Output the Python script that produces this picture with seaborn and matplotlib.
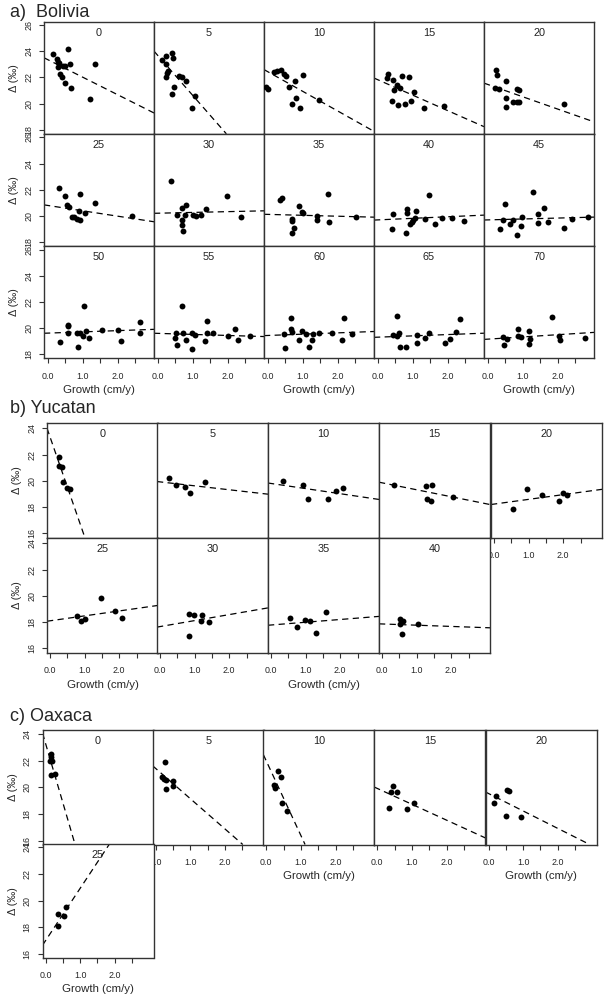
import numpy as np
import pandas as pd
import matplotlib.pyplot as plt
import seaborn as sns

# ---- data: growth (cm/y) vs delta (per mil), one list per lag panel ----
bol_lags = [0, 5, 10, 15, 20, 25, 30, 35, 40, 45, 50, 55, 60, 65, 70]
bol_growth = [
    [0.15, 0.27, 0.28, 0.31, 0.28, 0.34, 0.40, 0.49, 0.67, 0.56, 0.62, 0.42, 0.50, 1.20, 1.35],
    [0.12, 0.22, 0.24, 0.25, 0.22, 0.40, 0.42, 0.46, 0.39, 0.60, 0.69, 0.79, 1.05, 0.98, 0.28],
    [-0.05, 0.0, 0.17, 0.37, 0.27, 0.46, 0.51, 0.61, 0.77, 0.80, 0.70, 0.91, 0.99, 1.47],
    [0.29, 0.26, 0.44, 0.55, 0.63, 0.47, 0.70, 0.90, 1.04, 0.39, 0.56, 0.77, 0.93, 1.31, 1.89],
    [0.23, 0.27, 0.20, 0.32, 0.51, 0.82, 0.89, 0.51, 0.51, 0.72, 0.82, 0.89, 2.18],
    [0.32, 0.48, 0.53, 0.60, 0.68, 0.74, 0.84, 0.91, 0.88, 1.06, 0.92, 1.34, 2.41],
    [0.37, 0.53, 0.68, 0.79, 0.78, 0.70, 0.68, 0.72, 1.01, 1.09, 1.23, 1.36, 1.98, 2.36],
    [0.34, 0.41, 0.68, 0.70, 0.74, 0.68, 0.89, 0.96, 0.99, 1.39, 1.41, 1.72, 1.75, 2.51],
    [0.42, 0.39, 0.80, 0.82, 0.84, 1.08, 0.91, 0.96, 1.01, 1.06, 1.45, 1.34, 1.63, 1.82, 2.12, 2.46],
    [0.49, 0.34, 0.44, 0.63, 0.72, 0.82, 0.96, 0.94, 1.28, 1.42, 1.42, 1.60, 1.71, 2.18, 2.39, 2.85],
    [0.34, 0.56, 0.58, 0.56, 0.82, 0.91, 0.85, 1.03, 1.08, 1.01, 1.18, 1.55, 1.99, 2.10, 2.63, 2.63],
    [0.49, 0.51, 0.55, 0.70, 0.71, 0.80, 0.96, 0.98, 1.06, 1.33, 1.39, 1.41, 1.58, 1.99, 2.20, 2.28, 2.63],
    [0.46, 0.49, 0.66, 0.66, 0.68, 0.89, 0.96, 1.09, 1.18, 1.25, 1.29, 1.47, 1.82, 2.11, 2.17, 2.41],
    [0.44, 0.55, 0.53, 0.61, 0.63, 0.79, 1.11, 1.11, 1.34, 1.47, 1.91, 2.06, 2.23, 2.34],
    [0.44, 0.53, 0.46, 0.85, 0.87, 0.94, 1.18, 1.20, 1.17, 1.82, 2.04, 2.06, 2.77],
]
bol_delta = [
    [23.8, 23.4, 23.2, 23.1, 22.8, 22.3, 22.0, 21.6, 21.2, 24.2, 23.0, 22.85, 22.85, 20.35, 23.0],
    [23.3, 23.67, 23.0, 22.33, 22.0, 23.87, 23.5, 21.26, 20.7, 22.1, 22.0, 21.7, 20.6, 19.7, 22.5],
    [21.26, 21.1, 22.4, 22.6, 22.5, 22.3, 22.1, 21.26, 21.7, 20.46, 20.0, 19.64, 22.2, 20.28],
    [22.28, 21.95, 21.82, 21.44, 21.23, 21.05, 22.13, 22.03, 20.87, 20.2, 19.87, 19.95, 20.2, 19.64, 19.82],
    [22.6, 22.18, 21.23, 21.13, 21.7, 21.13, 21.05, 20.4, 19.74, 20.15, 20.13, 20.1, 19.95],
    [22.13, 21.49, 20.82, 20.69, 19.95, 19.9, 19.77, 19.69, 20.36, 20.2, 21.67, 20.97, 20.0],
    [22.69, 20.08, 20.59, 20.85, 20.08, 19.69, 19.31, 18.87, 20.08, 20.0, 20.08, 20.54, 21.54, 19.9],
    [21.23, 21.36, 19.64, 19.77, 19.1, 18.67, 20.77, 20.33, 20.2, 20.0, 19.69, 21.67, 19.56, 19.9],
    [20.13, 18.97, 18.67, 20.51, 20.2, 20.41, 19.38, 19.56, 19.69, 19.82, 21.62, 19.77, 19.38, 19.82, 19.82, 19.64],
    [20.9, 19.0, 19.69, 19.38, 19.69, 18.54, 19.9, 19.26, 21.85, 20.18, 19.49, 20.64, 19.51, 19.08, 19.77, 19.9],
    [18.95, 20.18, 20.28, 19.67, 19.62, 19.62, 18.59, 21.72, 19.79, 19.41, 19.23, 19.87, 19.87, 19.05, 20.51, 19.67],
    [19.28, 19.67, 18.69, 21.67, 19.67, 19.1, 19.67, 18.44, 19.49, 19.03, 19.67, 20.54, 19.67, 19.44, 19.92, 19.1, 19.44],
    [19.54, 18.51, 20.77, 19.95, 19.7, 19.1, 19.82, 19.56, 18.54, 19.1, 19.54, 19.62, 19.62, 19.1, 20.82, 19.54],
    [19.49, 20.95, 19.41, 19.62, 18.59, 18.59, 19.49, 18.85, 19.23, 19.67, 18.9, 19.15, 19.74, 20.72],
    [19.31, 19.18, 18.69, 19.92, 19.44, 19.36, 19.82, 19.18, 18.77, 20.85, 19.41, 19.1, 19.23],
]
bol_slope = [-1.34, -3.05, -1.5, -1.18, -0.94, -0.41, 0.06, -0.07, 0.12, 0.07, 0.095, -0.08, 0.10, 0.10, 0.17]
bol_icept = [23.35, 23.66, 22.43, 21.82, 21.46, 20.80, 20.21, 20.12, 19.70, 19.70, 19.63, 19.61, 19.45, 19.32, 19.17]

yuc_lags = [0, 5, 10, 15, 20, 25, 30, 35, 40]
yuc_growth = [
    [0.27, 0.26, 0.36, 0.38, 0.50, 0.58],
    [0.26, 0.46, 0.73, 0.87, 1.30],
    [0.34, 0.92, 1.08, 1.66, 1.88, 2.07],
    [0.35, 1.27, 1.44, 1.29, 1.42, 2.06],
    [0.56, 0.95, 1.38, 1.88, 1.99, 2.10],
    [0.77, 0.89, 1.01, 1.47, 1.88, 2.07],
    [0.85, 0.99, 0.85, 1.20, 1.18, 1.42],
    [0.55, 0.74, 0.98, 1.13, 1.30, 1.59],
    [0.52, 0.60, 0.52, 0.57, 1.05],
]
yuc_delta = [
    [21.82, 21.14, 21.02, 19.92, 19.47, 19.37],
    [20.2, 19.72, 19.52, 19.09, 19.9],
    [20.02, 19.72, 18.58, 18.64, 19.22, 19.47],
    [19.72, 19.6, 19.7, 18.58, 18.5, 18.77],
    [17.83, 19.39, 18.94, 18.43, 19.09, 18.94],
    [18.44, 18.12, 18.25, 19.83, 18.82, 18.32],
    [18.65, 18.52, 16.94, 18.52, 18.07, 17.99],
    [18.32, 17.62, 18.14, 18.07, 17.2, 18.74],
    [18.2, 18.12, 17.89, 17.07, 17.82],
]
yuc_slope = [-7.6, -0.30, -0.39, -0.53, 0.36, 0.375, 0.456, 0.21, -0.094]
yuc_icept = [23.34, 19.92, 19.80, 19.85, 18.23, 18.10, 17.66, 17.78, 17.86]

oax_lags = [0, 5, 10, 15, 20, 25]
oax_growth = [
    [0.16, 0.16, 0.14, 0.20, 0.16, 0.26],
    [0.26, 0.19, 0.25, 0.31, 0.29, 0.50, 0.50],
    [0.34, 0.41, 0.23, 0.26, 0.44, 0.60],
    [0.44, 0.39, 0.56, 0.34, 0.85, 1.06],
    [0.23, 0.17, 0.52, 0.59, 0.51, 0.95],
    [0.37, 0.37, 0.53, 0.58],
]
oax_delta = [
    [22.46, 22.26, 21.95, 22.0, 20.9, 20.98],
    [21.93, 20.8, 20.63, 20.56, 19.88, 20.45, 20.08],
    [21.2, 20.75, 20.2, 19.92, 18.8, 18.2],
    [20.08, 19.68, 19.68, 18.45, 18.38, 18.8],
    [19.38, 18.8, 19.83, 19.7, 17.85, 17.74],
    [18.98, 18.1, 18.85, 19.5],
]
oax_slope = [-8.9, -2.27, -5.6, -1.19, -1.31, 3.93]
oax_icept = [23.3, 21.41, 21.97, 19.91, 19.53, 17.0]

# ---- style ----
sns.set_style('white')
plt.rcParams['font.family'] = ['Liberation Sans', 'DejaVu Sans']

W, H = 604, 999
fig = plt.figure(figsize=(W / 100, H / 100), dpi=100)
EDGE = '#333333'


def draw_region(lags, growth, delta, slope, icept, lefts, tops, w, h, xlim, ylim, yticks, xlab_cols):
    n = len(lags)
    for i, lag in enumerate(lags):
        r, c = divmod(i, 5)
        ax = fig.add_axes([lefts[c] / W, 1 - (tops[r] + h) / H, w / W, h / H])
        df = pd.DataFrame({'growth': growth[i], 'delta': delta[i]})
        sns.scatterplot(data=df, x='growth', y='delta', ax=ax, color='black',
                        s=18, linewidth=0, zorder=3)
        ax.axline((0, icept[i]), slope=slope[i], color='black', lw=0.9,
                  ls=(0, (5, 3.5)), zorder=2)
        ax.set_xlim(xlim)
        ax.set_ylim(ylim)
        ax.text(0.5, 1 - 11 / h, str(lag), transform=ax.transAxes,
                ha='center', va='center', fontsize=7.8, color='#222222')
        for sp in ax.spines.values():
            sp.set_color(EDGE)
            sp.set_linewidth(1.0)

        bottom = i + 5 >= n
        ax.set_xticks(np.arange(0, 2.75, 0.5))
        ax.set_xticklabels(['0.0', '', '1.0', '', '2.0', ''])
        ax.tick_params(axis='x', bottom=bottom, labelbottom=bottom, length=3.6,
                       width=0.8, color=EDGE, pad=6.0, labelsize=6.4, direction='out')
        if bottom and c in xlab_cols:
            ax.set_xlabel('Growth (cm/y)', fontsize=8.2, labelpad=3.0)
        else:
            ax.set_xlabel('')

        if c == 0:
            ax.set_yticks(yticks)
            ax.set_yticklabels([str(v) for v in yticks], rotation=90, va='center')
            ax.tick_params(axis='y', left=True, labelleft=True, length=3.6, width=0.8,
                           color=EDGE, pad=4.3, labelsize=6.4, direction='out')
            ax.set_ylabel('Δ (‰)', fontsize=7.8, labelpad=3.6)
        else:
            ax.set_yticks([])
            ax.set_ylabel('')


# a) Bolivia
fig.text(10 / W, 1 - 17 / H, 'a)  Bolivia', fontsize=13, va='baseline')
draw_region(bol_lags, bol_growth, bol_delta, bol_slope, bol_icept,
            lefts=[44, 154, 264, 374, 484], tops=[21.5, 133.8, 246.1], w=110, h=112.3,
            xlim=(-0.114, 3.03), ylim=(17.7, 26.27), yticks=[18, 20, 22, 24, 26],
            xlab_cols=[0, 2, 4])

# b) Yucatan
fig.text(10 / W, 1 - 413 / H, 'b) Yucatan', fontsize=13, va='baseline')
draw_region(yuc_lags, yuc_growth, yuc_delta, yuc_slope, yuc_icept,
            lefts=[47, 157, 268, 379, 491], tops=[423, 538], w=111, h=115,
            xlim=(-0.087, 3.12), ylim=(15.65, 24.4), yticks=[16, 18, 20, 22, 24],
            xlab_cols=[0, 2])

# c) Oaxaca
fig.text(10 / W, 1 - 721 / H, 'c) Oaxaca', fontsize=13, va='baseline')
draw_region(oax_lags, oax_growth, oax_delta, oax_slope, oax_icept,
            lefts=[42.5, 152.7, 263.3, 374.3, 485.5], tops=[730, 843.5], w=111, h=114.5,
            xlim=(-0.087, 3.12), ylim=(15.7, 24.3), yticks=[16, 18, 20, 22, 24],
            xlab_cols=[0, 2, 4])

fig.savefig('out.png', dpi=100)
